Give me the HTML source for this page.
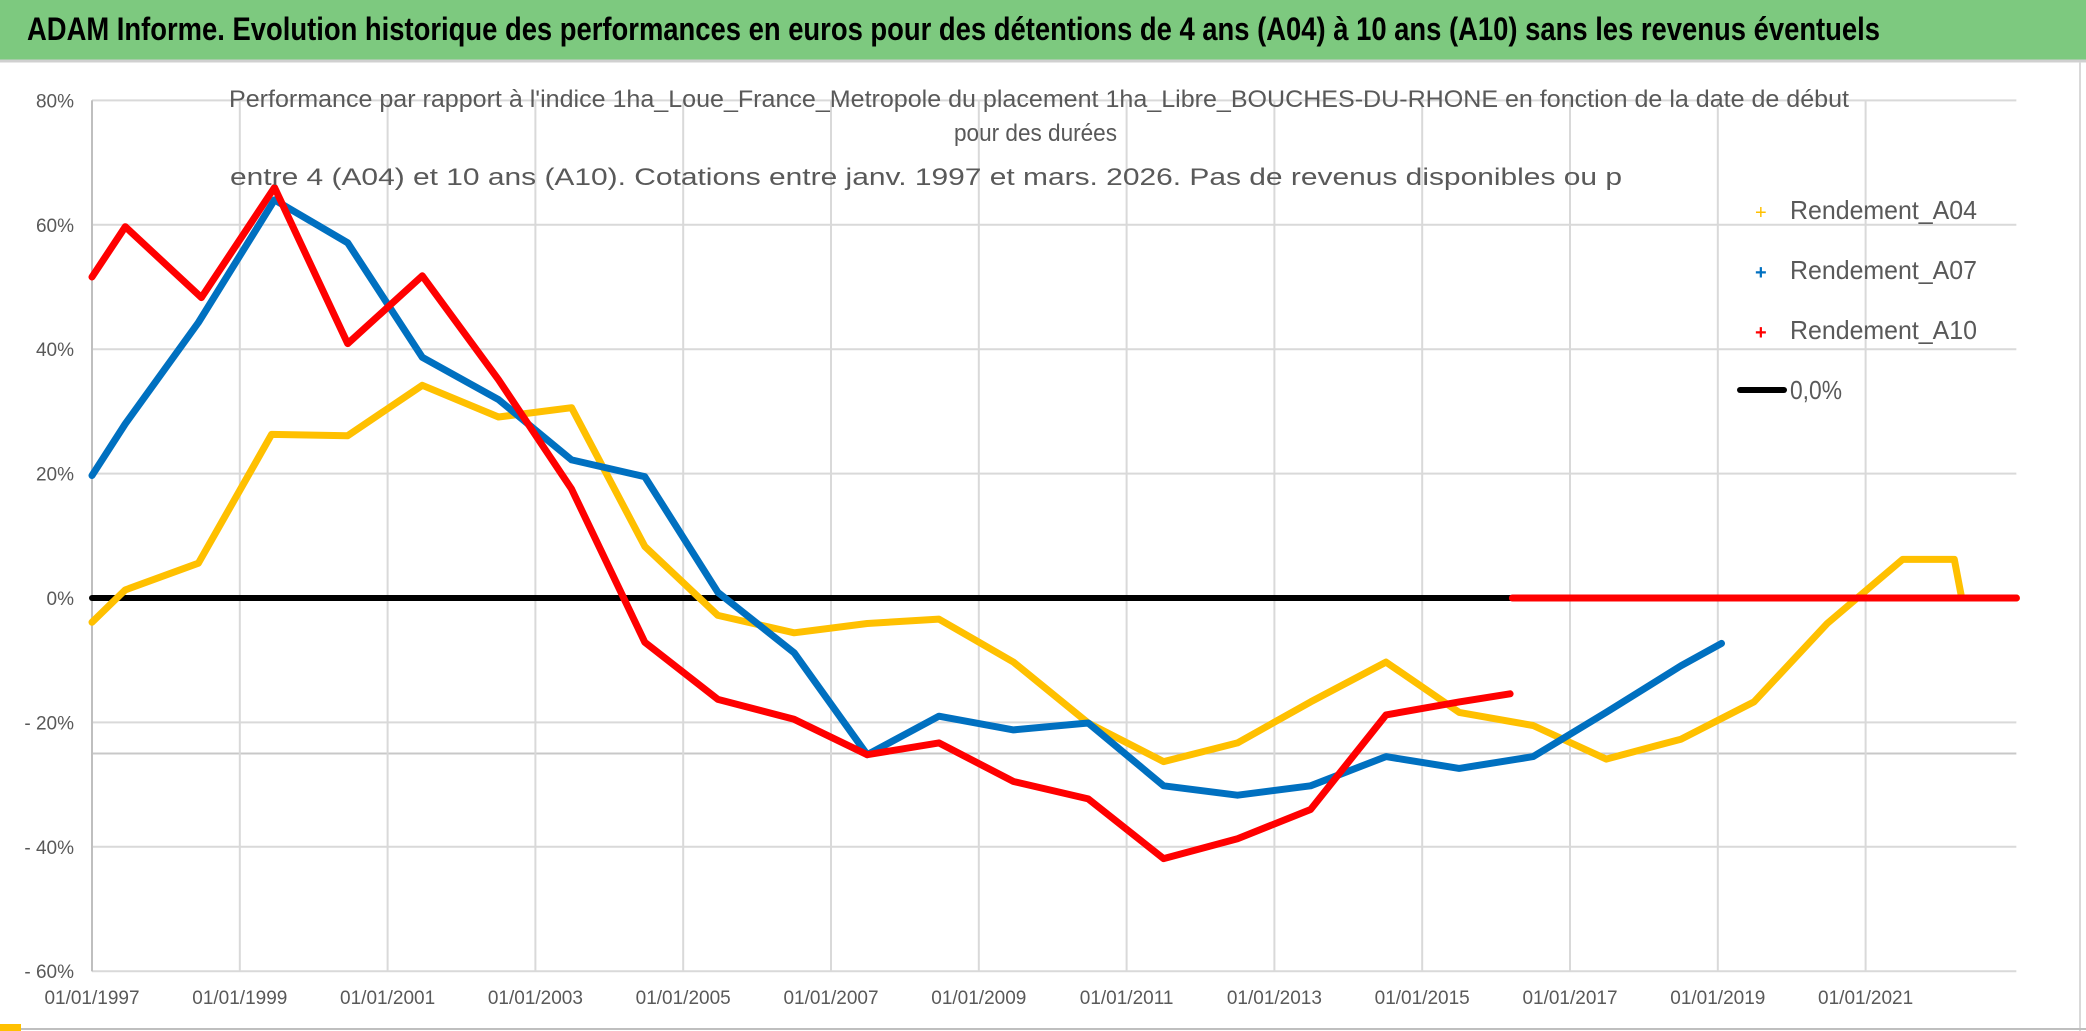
<!DOCTYPE html>
<html><head><meta charset="utf-8">
<style>
html,body{margin:0;padding:0;background:#fff;}
svg{display:block;font-family:"Liberation Sans",sans-serif;}
</style></head>
<body>
<svg id="chart" width="2086" height="1031" viewBox="0 0 2086 1031" xmlns="http://www.w3.org/2000/svg">
  <rect x="0" y="0" width="2086" height="1031" fill="#fff"/>
  <rect x="0" y="0" width="2086" height="60" fill="#7DC97F"/>
  <line x1="0" y1="61" x2="2086" y2="61" stroke="#d0d0d0" stroke-width="3"/>
  <text x="27" y="40" font-size="32" font-weight="bold" fill="#000" textLength="1853" lengthAdjust="spacingAndGlyphs">ADAM Informe. Evolution historique des performances en euros pour des détentions de 4 ans (A04) à 10 ans (A10) sans les revenus éventuels</text>
  <line x1="2080" y1="62" x2="2080" y2="1031" stroke="#d9d9d9" stroke-width="2"/>
  <line x1="0" y1="1029" x2="2086" y2="1029" stroke="#bfbfbf" stroke-width="2"/>
  <rect x="0" y="1024" width="21" height="7" fill="#FFC000"/>
  <g id="grid"></g>
  <g id="axes"></g>
  <g id="series"></g>
  <g fill="#595959" font-size="24">
    <text x="229" y="107" textLength="1620" lengthAdjust="spacingAndGlyphs">Performance par rapport à l'indice 1ha_Loue_France_Metropole  du placement 1ha_Libre_BOUCHES-DU-RHONE en fonction de la date de début</text>
    <text x="954" y="141" textLength="163" lengthAdjust="spacingAndGlyphs">pour des durées</text>
    <text x="230" y="185" textLength="1392" lengthAdjust="spacingAndGlyphs">entre 4 (A04) et 10 ans (A10). Cotations entre janv. 1997 et mars. 2026. Pas de revenus disponibles ou p</text>
  </g>
  <g id="legend" font-size="26" fill="#595959">
    <g>
      <text x="1755" y="219" fill="#FFC000" font-size="20">+</text>
      <text x="1790" y="219" textLength="187" lengthAdjust="spacingAndGlyphs">Rendement_A04</text>
    </g>
    <g>
      <text x="1755" y="279" fill="#0070C0" font-size="20" font-weight="bold">+</text>
      <text x="1790" y="279" textLength="187" lengthAdjust="spacingAndGlyphs">Rendement_A07</text>
    </g>
    <g>
      <text x="1755" y="339" fill="#FF0000" font-size="20" font-weight="bold">+</text>
      <text x="1790" y="339" textLength="187" lengthAdjust="spacingAndGlyphs">Rendement_A10</text>
    </g>
    <g>
      <line x1="1740" y1="390" x2="1784" y2="390" stroke="#000" stroke-width="6" stroke-linecap="round"/>
      <text x="1790" y="399" textLength="52" lengthAdjust="spacingAndGlyphs">0,0%</text>
    </g>
  </g>
</svg>
<script>
const yTicks = [80, 60, 40, 20, 0, -20, -40, -60];
const yTickLabels = ["80%", "60%", "40%", "20%", "0%", "- 20%", "- 40%", "- 60%"];
const xTicks = [1997, 1999, 2001, 2003, 2005, 2007, 2009, 2011, 2013, 2015, 2017, 2019, 2021];
const xTickLabels = ["01/01/1997","01/01/1999","01/01/2001","01/01/2003","01/01/2005","01/01/2007","01/01/2009","01/01/2011","01/01/2013","01/01/2015","01/01/2017","01/01/2019","01/01/2021"];
const xMin = 1997, xMax = 2023.04;

const a04Years = [1997.0,1997.45,1998.44,1999.43,2000.46,2001.47,2002.5,2003.49,2004.48,2005.47,2006.5,2007.49,2008.46,2009.47,2010.48,2011.5,2012.5,2013.49,2014.51,2015.5,2016.5,2017.49,2018.5,2019.49,2020.48,2021.5,2022.2,2022.3,2023.04];
const a04Values = [-3.9,1.3,5.6,26.3,26.1,34.2,29.1,30.6,8.3,-2.8,-5.6,-4.1,-3.4,-10.3,-20.1,-26.3,-23.3,-16.7,-10.3,-18.4,-20.5,-25.9,-22.7,-16.7,-4.1,6.2,6.2,0,0];
const a07Years = [1997.0,1997.45,1998.44,1999.47,2000.46,2001.47,2002.5,2003.49,2004.48,2005.47,2006.5,2007.49,2008.46,2009.47,2010.48,2011.5,2012.5,2013.49,2014.51,2015.5,2016.5,2017.49,2018.5,2019.05];
const a07Values = [19.7,28,44.3,64,57.1,38.7,31.9,22.2,19.5,0.9,-8.8,-25.2,-19,-21.2,-20.1,-30.2,-31.7,-30.2,-25.5,-27.4,-25.5,-18.4,-10.9,-7.3];
const a10Years = [1997.0,1997.45,1998.48,1999.47,2000.46,2001.47,2002.5,2003.49,2004.48,2005.47,2006.5,2007.49,2008.46,2009.47,2010.48,2011.5,2012.5,2013.49,2014.51,2015.5,2016.19,2016.2,2016.22,2023.04];
const a10Values = [51.6,59.7,48.3,66,40.9,51.8,35.1,17.5,-7.1,-16.3,-19.5,-25.2,-23.3,-29.5,-32.3,-41.9,-38.7,-34,-18.8,-16.7,-15.4,null,0,0];
const zeroLine = [0];

const X0 = 92, PX_PER_YEAR = 73.9, Y0 = 598, PX_PER_PCT = 6.22;
function xs(yr){ return X0 + (yr - xMin) * PX_PER_YEAR; }
function ys(v){ return Y0 - v * PX_PER_PCT; }
const NS = "http://www.w3.org/2000/svg";
function mk(tag, attrs, parent){ const e = document.createElementNS(NS, tag); for (const k in attrs) e.setAttribute(k, attrs[k]); parent.appendChild(e); return e; }

const grid = document.getElementById('grid');
const axes = document.getElementById('axes');
const series = document.getElementById('series');
const xRight = xs(xMax);

yTicks.forEach((t, i) => {
  const l = mk('line', {x1: X0, x2: xRight, y1: ys(t), y2: ys(t), stroke: '#d9d9d9', 'stroke-width': 2}, grid);
  
  
  const tx = mk('text', {x: 74, y: ys(t) + 7, 'text-anchor': 'end', 'font-size': 19, fill: '#595959'}, axes);
  tx.textContent = yTickLabels[i];
  
  
});
const extra = mk('line', {x1: X0, x2: xRight, y1: ys(-25), y2: ys(-25), stroke: '#c8c8c8', 'stroke-width': 2}, grid);



xTicks.forEach((t, i) => {
  const l = mk('line', {x1: xs(t), x2: xs(t), y1: ys(80), y2: ys(-60), stroke: '#d9d9d9', 'stroke-width': 2}, grid);
  
  
  const tx = mk('text', {x: xs(t), y: 1004, 'text-anchor': 'middle', 'font-size': 19, fill: '#595959'}, axes);
  tx.textContent = xTickLabels[i];
  
  
});
const yAxis = mk('line', {x1: X0, x2: X0, y1: ys(80), y2: ys(-60), stroke: '#bfbfbf', 'stroke-width': 2}, axes);



const zl = mk('line', {x1: X0, x2: xRight, y1: ys(zeroLine[0]), y2: ys(zeroLine[0]), stroke: '#000', 'stroke-width': 6, 'stroke-linecap': 'round'}, series);



function drawSeries(years, vals, color, name){
  let d = '', pen = false;
  for (let i = 0; i < years.length; i++) {
    if (vals[i] === null) { pen = false; continue; }
    d += (pen ? 'L' : 'M') + xs(years[i]).toFixed(1) + ' ' + ys(vals[i]).toFixed(1) + ' ';
    pen = true;
  }
  const p = mk('path', {d: d, fill: 'none', stroke: color, 'stroke-width': 7, 'stroke-linejoin': 'round', 'stroke-linecap': 'round'}, series);
  
  
}
drawSeries(a04Years, a04Values, '#FFC000', 'series-a04-line');
drawSeries(a07Years, a07Values, '#0070C0', 'series-a07-line');
drawSeries(a10Years, a10Values, '#FF0000', 'series-a10-line');
</script>
</body></html>
